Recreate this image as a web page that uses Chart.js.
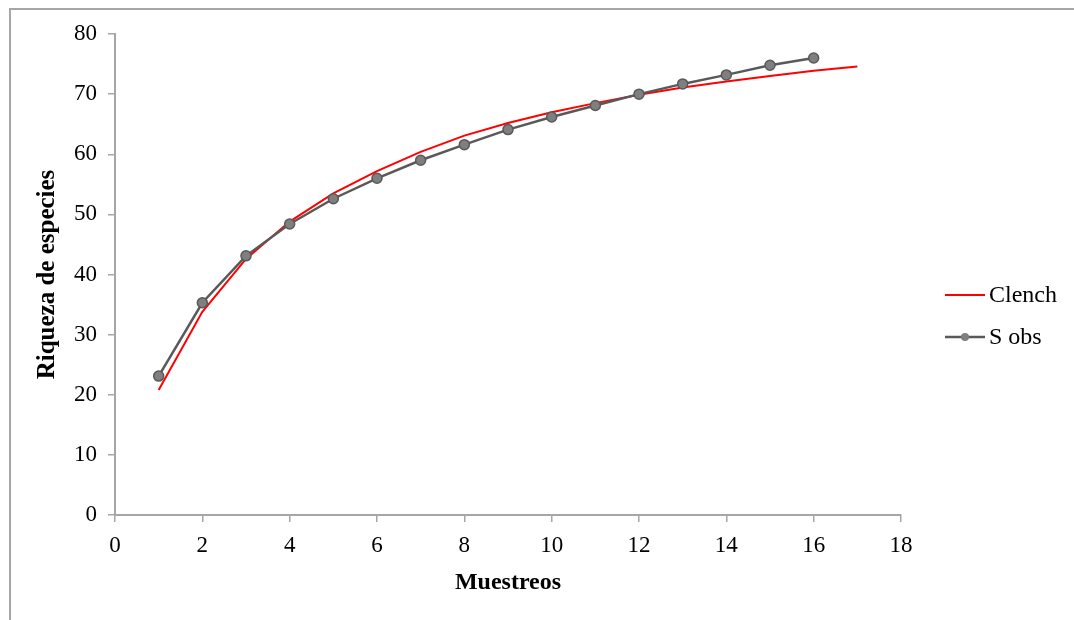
<!DOCTYPE html>
<html>
<head>
<meta charset="utf-8">
<script src="https://cdn.jsdelivr.net/npm/chart.js@4.4.0/dist/chart.umd.min.js"></script>
<style>
  body { margin: 0; background: #fff; }
  #wrap { position: relative; width: 1074px; height: 620px; }
  #frame { position: absolute; left: 9px; top: 8px; right: 0; bottom: 0;
           border-top: 2px solid #a6a6a6; border-left: 2px solid #a6a6a6; pointer-events: none; }
</style>
</head>
<body>
<div id="wrap">
  <canvas id="canvasPanel" width="1074" height="620"></canvas>
  <div id="frame"></div>
</div>
<script>
var MUESTREOS_OBS = [1, 2, 3, 4, 5, 6, 7, 8, 9, 10, 11, 12, 13, 14, 15, 16];
var S_OBS = [23.1, 35.3, 43.1, 48.4, 52.6, 56.0, 59.0, 61.6, 64.1, 66.2, 68.1, 70.0, 71.7, 73.2, 74.8, 76.0];
var MUESTREOS_CLENCH = [1, 2, 3, 4, 5, 6, 7, 8, 9, 10, 11, 12, 13, 14, 15, 16, 17];
var CLENCH = [20.8, 33.8, 42.6, 48.8, 53.5, 57.2, 60.4, 63.1, 65.2, 67.0, 68.5, 69.9, 71.1, 72.1, 73.0, 73.9, 74.6];

var SERIF = '"Liberation Serif", "Times New Roman", serif';

function toPoints(xs, ys) {
  return xs.map(function(x, i) { return {x: x, y: ys[i]}; });
}

var legendPlugin = {
  id: 'sideLegend',
  afterDraw: function(chart) {
    var ctx = chart.ctx;
    var x0 = chart.chartArea.right + 44;
    var items = chart.data.datasets;
    ctx.save();
    ctx.font = '24px ' + SERIF;
    ctx.textBaseline = 'middle';
    ctx.fillStyle = '#000';
    items.forEach(function(ds, i) {
      var y = 295 + i * 42;
      ctx.strokeStyle = ds.borderColor;
      ctx.lineWidth = ds.borderWidth;
      ctx.beginPath();
      ctx.moveTo(x0, y);
      ctx.lineTo(x0 + 40, y);
      ctx.stroke();
      if (ds.pointRadius > 0) {
        ctx.beginPath();
        ctx.arc(x0 + 20, y, 4, 0, Math.PI * 2);
        ctx.fillStyle = ds.pointBackgroundColor;
        ctx.fill();
        ctx.fillStyle = '#000';
      }
      ctx.fillText(ds.label, x0 + 44, y + 1);
    });
    ctx.restore();
  }
};

var config = {
  type: 'line',
  data: {
    datasets: [{
      label: 'Clench',
      data: toPoints(MUESTREOS_CLENCH, CLENCH),
      borderColor: '#ff0000',
      backgroundColor: '#ff0000',
      borderWidth: 2,
      pointRadius: 0,
      fill: false,
      order: 2
    },
    {
      label: 'S obs',
      data: toPoints(MUESTREOS_OBS, S_OBS),
      borderColor: '#595959',
      backgroundColor: '#7f7f7f',
      pointBackgroundColor: '#7f7f7f',
      pointBorderColor: '#595959',
      pointBorderWidth: 1.5,
      pointRadius: 5,
      borderWidth: 2.5,
      fill: false,
      order: 1
    }]
  },
  options: {
    responsive: false,
    animation: false,
    layout: { padding: { left: 0, top: 34, right: 173, bottom: 0 } },
    plugins: {
      legend: { display: false },
      tooltip: { enabled: false }
    },
    scales: {
      x: {
        type: 'linear',
        min: 0, max: 18,
        afterFit: function(scale) { scale.height = 105; },
        ticks: { stepSize: 2, color: '#000', padding: 10, font: { family: SERIF, size: 23 } },
        grid: { drawOnChartArea: false, tickLength: 7, color: '#a6a6a6', lineWidth: 1.5 },
        border: { color: '#a6a6a6', width: 2 },
        title: { display: true, text: 'Muestreos', color: '#000', padding: { bottom: 23 },
                 font: { family: SERIF, size: 24, weight: 'bold' } }
      },
      y: {
        min: 0, max: 80,
        afterFit: function(scale) { scale.width = 115; },
        ticks: { stepSize: 10, color: '#000', padding: 11, font: { family: SERIF, size: 23 } },
        grid: { drawOnChartArea: false, tickLength: 7, color: '#a6a6a6', lineWidth: 1.5 },
        border: { color: '#a6a6a6', width: 2 },
        title: { display: true, text: 'Riqueza de especies', color: '#000', padding: { top: 33 },
                 font: { family: SERIF, size: 25, weight: 'bold' } }
      }
    }
  },
  plugins: [legendPlugin]
};

window.onload = function() {
  var ctx = document.getElementById('canvasPanel').getContext('2d');
  window.myLine = new Chart(ctx, config);
};
</script>
</body>
</html>
